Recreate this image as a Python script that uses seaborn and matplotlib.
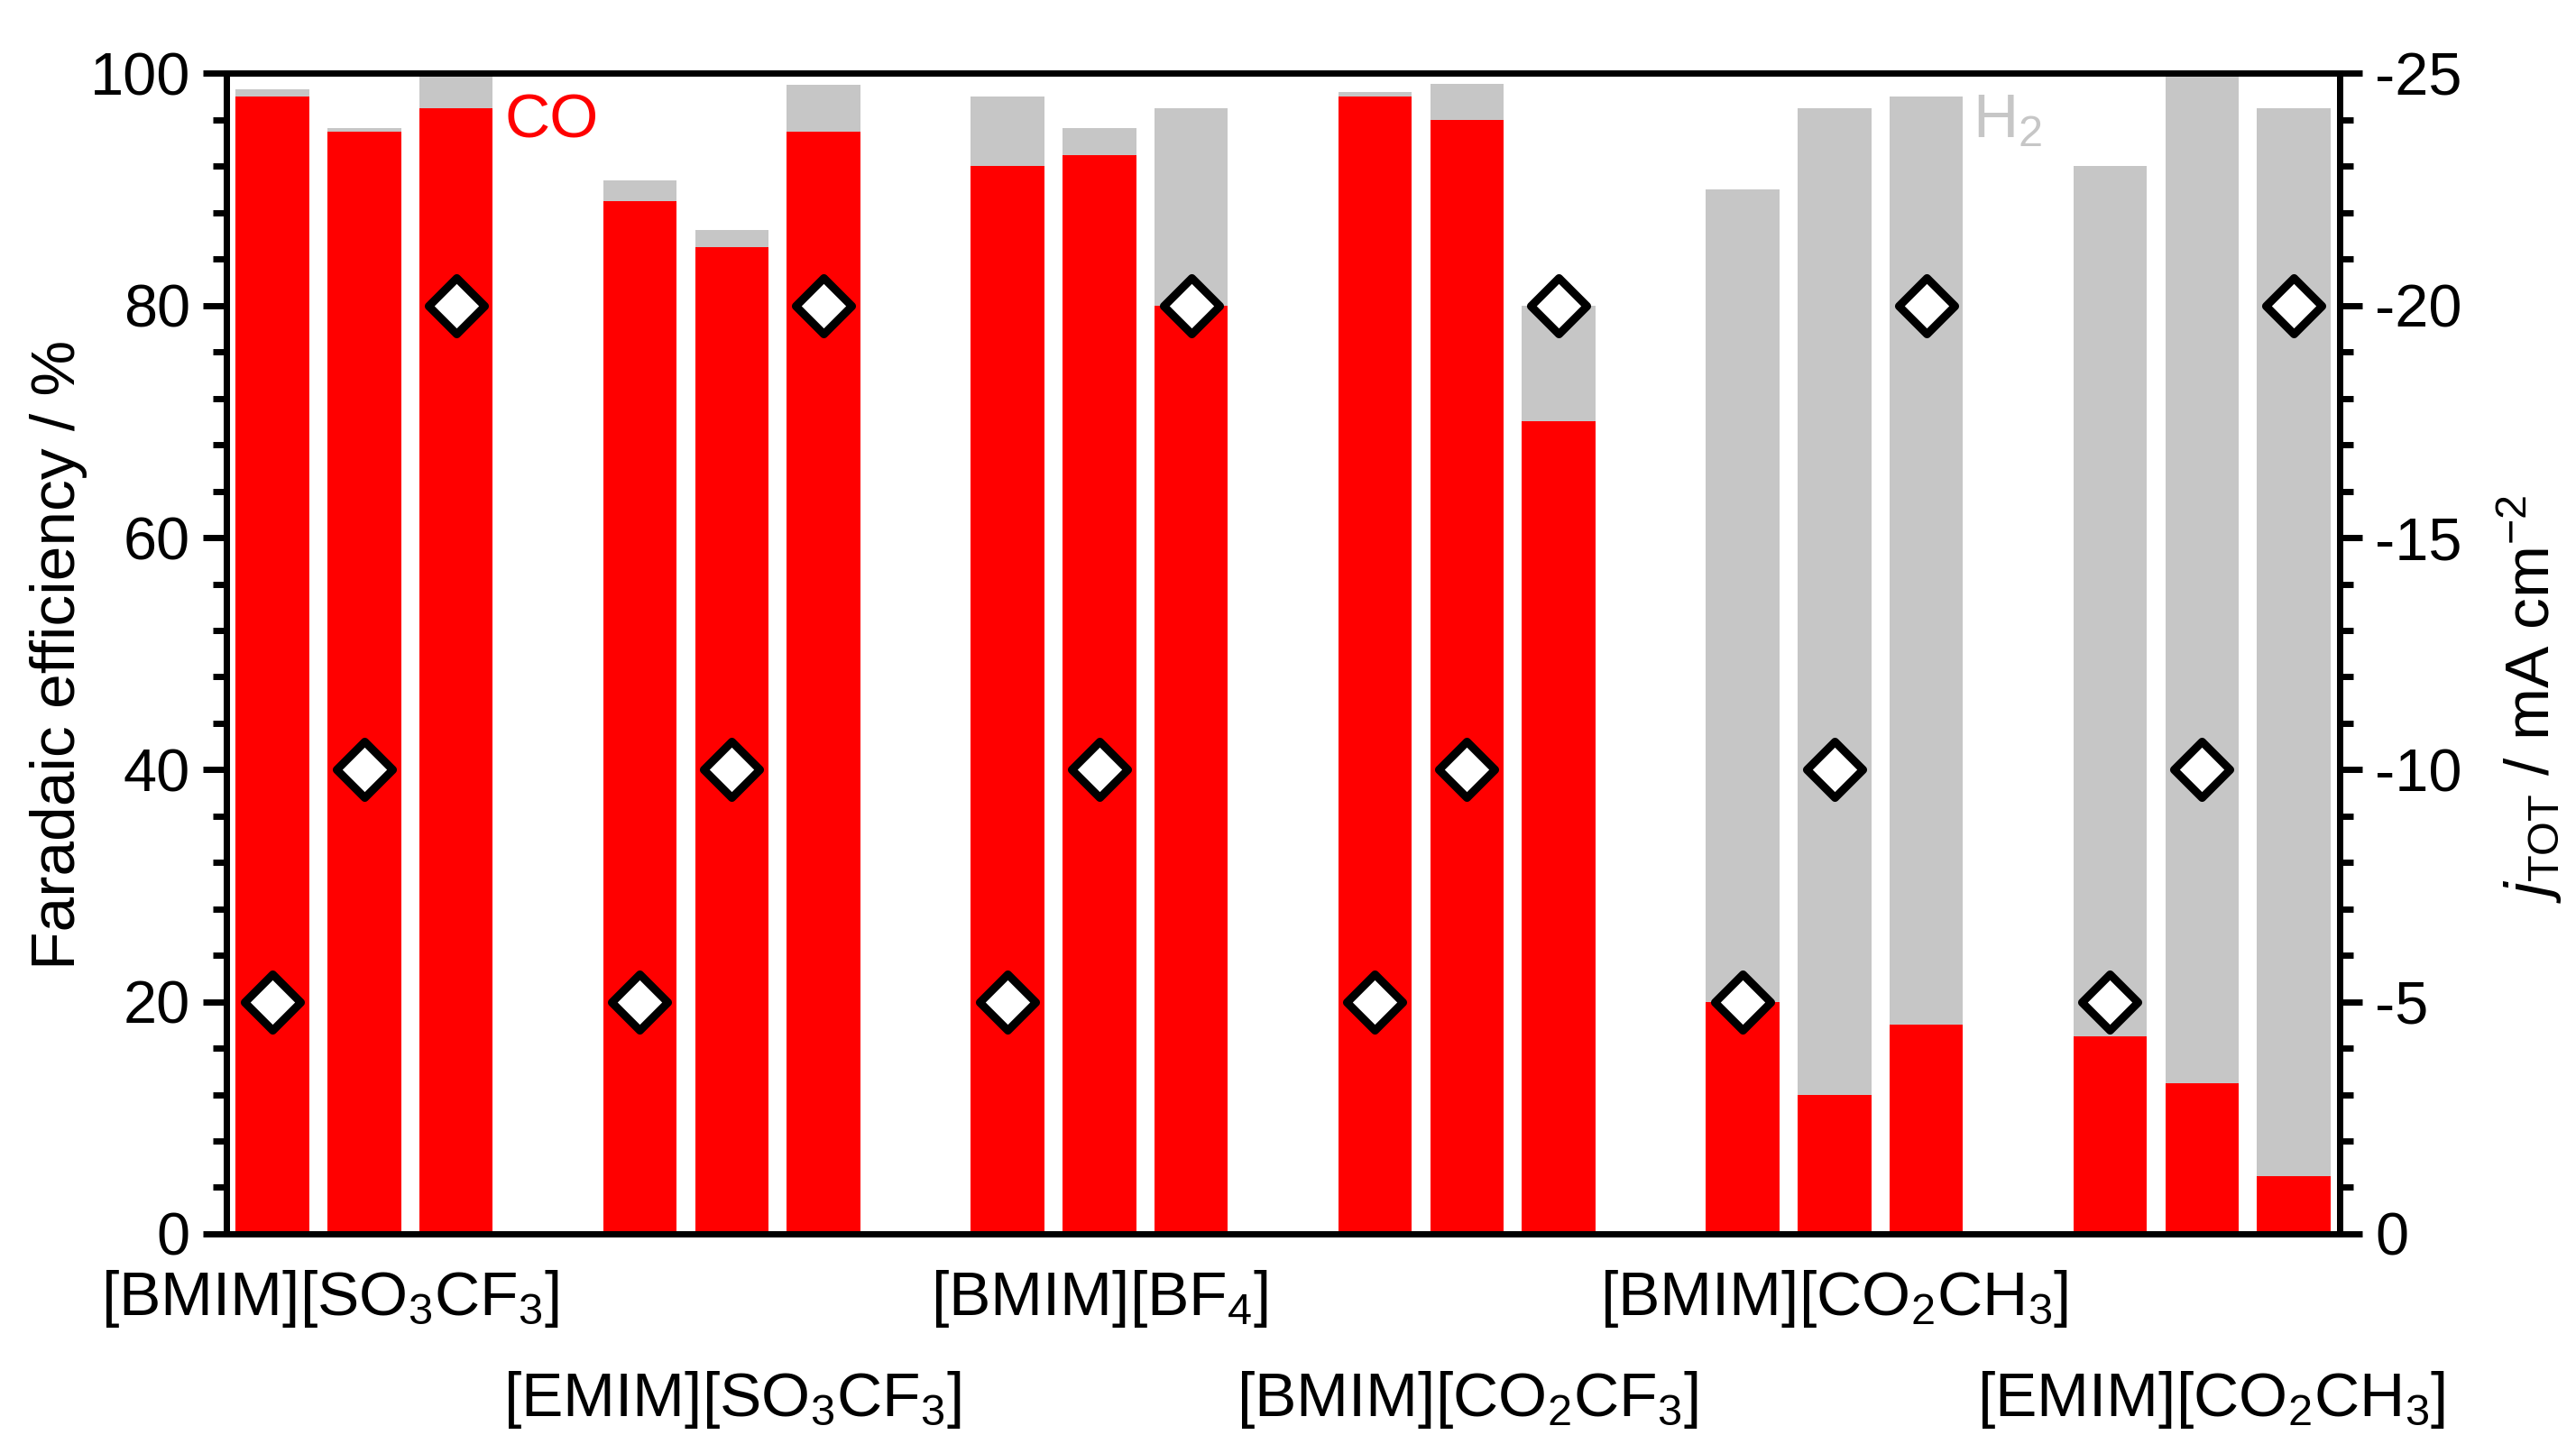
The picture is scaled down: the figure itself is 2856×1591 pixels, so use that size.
import matplotlib
matplotlib.use("Agg")
import matplotlib.pyplot as plt
import numpy as np
import pandas as pd
import seaborn as sns
from matplotlib.ticker import MultipleLocator

# data
groups = [r"[BMIM][SO$_3$CF$_3$]", r"[EMIM][SO$_3$CF$_3$]", r"[BMIM][BF$_4$]",
          r"[BMIM][CO$_2$CF$_3$]", r"[BMIM][CO$_2$CH$_3$]", r"[EMIM][CO$_2$CH$_3$]"]
fe_co = [98, 95, 97, 89, 85, 95, 92, 93, 80, 98, 96, 70, 20, 12, 18, 17, 13, 5]
fe_total = [98.6, 95.3, 100, 90.8, 86.5, 99, 98, 95.3, 97, 98.4, 99.1, 80,
            90, 97, 98, 92, 100, 97]
j_tot = [-5, -10, -20, -5, -10, -20, -5, -10, -20,
         -5, -10, -20, -5, -10, -20, -5, -10, -20]
label_shift = [-0.37, 0, 0, 0, 0, 0.1]

RED = "#ff0000"
GREY = "#c6c6c6"

sns.set_style("ticks", {"axes.edgecolor": "black", "text.color": "black",
                        "xtick.color": "black", "ytick.color": "black",
                        "axes.labelcolor": "black"})
plt.rcParams["font.family"] = ["Liberation Sans", "DejaVu Sans"]
plt.rcParams["mathtext.fontset"] = "custom"
plt.rcParams["mathtext.rm"] = "Liberation Sans"
plt.rcParams["mathtext.it"] = "Liberation Sans:italic"
plt.rcParams["mathtext.default"] = "regular"
plt.rcParams["axes.unicode_minus"] = False

# 3 bars per group, one empty slot between groups
pos = [g * 4 + i for g in range(len(groups)) for i in range(3)]
df = pd.DataFrame({"pos": pos, "co": fe_co, "total": fe_total, "j": j_tot})

fig = plt.figure(figsize=(28.56, 15.91), dpi=100)
ax = fig.add_axes([0.0879, 0.1402, 0.8204, 0.8086])

sns.barplot(data=df, x="pos", y="total", native_scale=True, color=GREY,
            saturation=1, width=0.8, errorbar=None, linewidth=0, ax=ax)
sns.barplot(data=df, x="pos", y="co", native_scale=True, color=RED,
            saturation=1, width=0.8, errorbar=None, linewidth=0, ax=ax)

ax.set_xlim(-0.5, 22.5)
ax.set_ylim(0, 100)
ax.set_xticks([])
ax.set_xlabel("")
ax.set_ylabel("")
ax.yaxis.set_major_locator(MultipleLocator(20))
ax.yaxis.set_minor_locator(MultipleLocator(4))
ax.tick_params(axis="y", which="major", length=19, width=5, pad=10, labelsize=48,
               colors="black")
ax.tick_params(axis="y", which="minor", length=11, width=5, colors="black")
for s in ax.spines.values():
    s.set_linewidth(5)
    s.set_color("black")

ax2 = ax.twinx()
sns.scatterplot(data=df, x="pos", y="j", marker="D", s=1000, color="white",
                edgecolor="black", linewidth=6.5, ax=ax2, zorder=5, clip_on=False)
ax2.set_ylim(0, -25)
ax2.set_xlim(-0.5, 22.5)
ax2.set_ylabel("")
ax2.yaxis.set_major_locator(MultipleLocator(5))
ax2.yaxis.set_minor_locator(MultipleLocator(1))
ax2.tick_params(axis="y", which="major", length=18, width=5, pad=10, labelsize=48,
                colors="black")
ax2.tick_params(axis="y", which="minor", length=11, width=5, colors="black")
for s in ax2.spines.values():
    s.set_linewidth(5)
    s.set_color("black")

ax.text(2.53, 94.5, "CO", color=RED, fontsize=50, ha="left", va="baseline")
ax.text(18.5, 94.5, r"H$_2$", color=GREY, fontsize=50, ha="left", va="baseline")

# staggered group labels under the axis
for g, name in enumerate(groups):
    yrow = 0.0836 if g % 2 == 0 else 0.0132
    xd = g * 4 + 1 + label_shift[g]
    xf = ax.transData.transform((xd, 0))[0] / fig.bbox.width
    fig.text(xf, yrow, name, fontsize=50, ha="center", va="baseline", color="black")

fig.text(0.029, 0.544, "Faradaic efficiency / %", fontsize=50, rotation=90,
         rotation_mode="anchor", ha="center", va="baseline", color="black")
fig.text(0.990, 0.513, r"$\mathit{j}_{\mathrm{TOT}}$ / mA cm$^{-2}$", fontsize=50,
         rotation=90, rotation_mode="anchor", ha="center", va="baseline",
         color="black")

fig.savefig("out.png", dpi=100)
